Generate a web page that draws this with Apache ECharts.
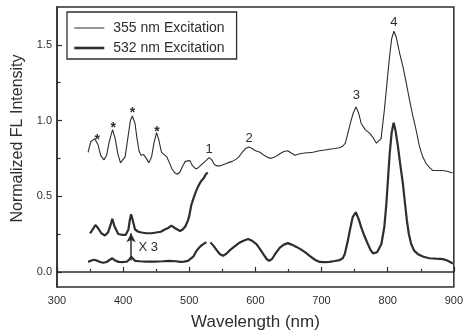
<!DOCTYPE html>
<html>
<head>
<meta charset="utf-8">
<script src="https://cdn.jsdelivr.net/npm/echarts@6/dist/echarts.min.js"></script>
<style>html,body{margin:0;padding:0;background:#fff}#c{width:466px;height:336px}</style>
</head>
<body>
<div id="c"></div>
<script>
// ---- data (wavelength nm, normalized intensity) ----
const seriesNames = ['355 nm Excitation', '532 nm Excitation'];
const xTicks = [300, 400, 500, 600, 700, 800, 900];
const yTickLabels = [0.0, 0.5, 1.0, 1.5];
const yMinorTicks = [0.25, 0.75, 1.25];

const ex355 = [[347,0.79],[351,0.86],[357,0.88],[362,0.84],[366,0.77],[371,0.74],[375,0.77],[379,0.86],[384,0.94],[388,0.88],[392,0.78],[396,0.72],[399,0.715],[403,0.76],[407,0.88],[411,1.0],[414,1.03],[418,0.98],[421,0.88],[424,0.8],[427,0.77],[431,0.775],[435,0.75],[439,0.72],[443,0.76],[447,0.86],[450.6,0.92],[454,0.87],[458,0.79],[462,0.775],[466,0.76],[470,0.72],[474,0.68],[478,0.655],[482,0.645],[486,0.66],[490,0.7],[494,0.73],[497,0.74],[501,0.735],[505,0.7],[510,0.68],[514,0.69],[519,0.71],[524,0.73],[530,0.755],[534,0.74],[538,0.71],[542,0.7],[546,0.7],[552,0.71],[558,0.72],[565,0.73],[571,0.745],[575,0.76],[580,0.79],[585,0.815],[590,0.825],[595,0.815],[600,0.8],[607,0.79],[613,0.77],[619,0.755],[624,0.75],[630,0.76],[637,0.78],[643,0.795],[649,0.8],[654,0.785],[660,0.77],[667,0.78],[675,0.785],[687,0.79],[697,0.8],[705,0.805],[712,0.81],[720,0.815],[727,0.82],[732,0.83],[736,0.85],[740,0.92],[744,0.99],[748,1.05],[752,1.09],[756,1.05],[760,0.98],[766,0.94],[773,0.915],[779,0.88],[783,0.85],[786,0.837],[790,0.88],[795,1.07],[799,1.25],[803,1.43],[806,1.54],[809.5,1.59],[813,1.55],[818,1.446],[823,1.357],[828,1.25],[833,1.136],[838,1.03],[843,0.937],[848,0.83],[853,0.76],[858,0.716],[863,0.69],[868,0.67],[875,0.67],[883,0.67],[890,0.665],[898,0.653]];

const ex532x3 = [[350,0.255],[354,0.28],[358,0.31],[362,0.29],[367,0.255],[372.5,0.24],[377,0.26],[381,0.31],[383.6,0.35],[387,0.3],[392.6,0.25],[398,0.245],[404,0.245],[408,0.28],[410,0.34],[412,0.38],[414,0.35],[418,0.28],[423,0.265],[428,0.26],[435,0.255],[443,0.255],[450,0.26],[457,0.265],[463,0.28],[468,0.29],[473,0.305],[478,0.29],[482,0.28],[486,0.27],[490,0.28],[494,0.3],[498,0.34],[500,0.37],[503,0.44],[506,0.48],[510,0.53],[514,0.57],[518,0.6],[522,0.62],[525,0.645],[528,0.655]];

const ex532 = [[347,0.066],[352,0.075],[356,0.08],[360,0.075],[365,0.065],[370,0.06],[375,0.065],[380,0.08],[383.6,0.09],[388,0.075],[393,0.066],[400,0.065],[406,0.068],[410,0.085],[412,0.1],[414,0.09],[418,0.073],[425,0.07],[435,0.068],[448,0.068],[460,0.07],[470,0.072],[480,0.07],[486,0.066],[492,0.068],[498,0.073],[501,0.078],[506,0.1],[511,0.14],[516,0.165],[520,0.18],[523.6,0.19],[526,0.195],[529,null],[532,0.195],[537,0.17],[542,0.14],[546,0.118],[551,0.106],[556,0.12],[562,0.145],[569,0.17],[575,0.19],[582,0.205],[589,0.217],[595,0.205],[601.6,0.184],[607,0.15],[613,0.11],[617,0.085],[620.7,0.073],[625,0.085],[631,0.125],[637,0.16],[643,0.18],[649,0.19],[655,0.18],[662,0.165],[668,0.15],[675,0.13],[682,0.106],[690,0.08],[697,0.066],[705,0.065],[712,0.066],[720,0.072],[727.5,0.078],[732,0.09],[735,0.117],[739,0.19],[742.6,0.27],[747,0.36],[751.7,0.394],[756,0.35],[760,0.294],[765,0.235],[770,0.184],[774,0.145],[778,0.122],[784,0.13],[790.5,0.184],[795,0.3],[798,0.45],[801,0.65],[803,0.78],[806,0.92],[809,0.985],[812,0.93],[815.6,0.826],[819,0.71],[823,0.583],[826,0.46],[829,0.34],[832,0.25],[835.5,0.184],[840,0.14],[845.8,0.117],[854,0.1],[863,0.09],[873,0.087],[883.5,0.084],[890,0.075],[898.6,0.055]];

// peak annotations
const peakText = ['*', '*', '*', '*', '1', '2', '3', '4'];
const peakX = [361, 385, 414, 451, 530, 590.5, 752.7, 809.5];
const peakY = [0.89, 0.97, 1.07, 0.945, 0.81, 0.882, 1.165, 1.65];
const scaleText = 'X 3';
const scaleTextPos = [438, 0.16];
const arrowX = 412;
const arrowY = [0.075, 0.255];

const FONT = '"Liberation Sans", Arial, sans-serif';
const INK = '#2e2e2e';

const chart = echarts.init(document.getElementById('c'), null, {renderer: 'canvas'});

const peakMarks = peakText.map((t, i) => ({
  coord: [peakX[i], peakY[i]],
  name: t,
  label: t === '*' ? {fontSize: 14, fontWeight: 'bold', offset: [0, 3]} : {fontSize: 13}
}));

chart.setOption({
  animation: false,
  backgroundColor: '#fff',
  grid: {left: 57, right: 12, top: 7, bottom: 49, show: true, borderColor: INK, borderWidth: 1.5, backgroundColor: 'transparent'},
  legend: {
    data: [
      {name: seriesNames[0], lineStyle: {width: 1, color: INK}},
      {name: seriesNames[1], lineStyle: {width: 2.6, color: INK}}
    ],
    orient: 'vertical',
    left: 67, top: 12,
    padding: [9, 12, 4, 6],
    itemGap: 6,
    itemWidth: 30, itemHeight: 14,
    borderColor: INK, borderWidth: 1.3, borderRadius: 0,
    itemStyle: {color: 'rgba(0,0,0,0)', borderColor: 'rgba(0,0,0,0)', borderWidth: 0, opacity: 0},
    textStyle: {fontFamily: FONT, fontSize: 14, color: INK, padding: [0, 0, 0, 4]}
  },
  xAxis: {
    type: 'value', min: 300, max: 900, interval: 100,
    name: 'Wavelength (nm)', nameLocation: 'middle', nameGap: 27,
    nameTextStyle: {fontFamily: FONT, fontSize: 17, color: INK},
    axisLine: {show: true, lineStyle: {color: INK, width: 1.5}},
    axisTick: {show: true, inside: true, length: 5, lineStyle: {color: INK, width: 1.2}},
    minorTick: {show: true, splitNumber: 2, length: 3, lineStyle: {color: INK, width: 1.2}},
    axisLabel: {fontFamily: FONT, fontSize: 11, color: INK, margin: 8,
      customValues: xTicks, formatter: v => String(v)},
    splitLine: {show: false}
  },
  yAxis: [{
    type: 'value', min: -0.1, max: 1.75,
    name: 'Normalized FL Intensity', nameLocation: 'middle', nameGap: 31,
    nameTextStyle: {fontFamily: FONT, fontSize: 16, color: INK, padding: [0, 0, 0, 17]},
    axisLine: {show: true, lineStyle: {color: INK, width: 1.5}},
    axisTick: {show: true, inside: true, length: 5, customValues: yTickLabels, lineStyle: {color: INK, width: 1.2}},
    axisLabel: {fontFamily: FONT, fontSize: 11, color: INK, margin: 5, customValues: yTickLabels,
      formatter: v => v.toFixed(1)},
    splitLine: {show: false}
  }, {
    type: 'value', min: -0.1, max: 1.75, position: 'left',
    axisLine: {show: false},
    axisTick: {show: true, inside: true, length: 3.5, customValues: yMinorTicks, lineStyle: {color: INK, width: 1.2}},
    axisLabel: {show: false},
    splitLine: {show: false}
  }],
  series: [{
    name: seriesNames[0], type: 'line', data: ex355, symbol: 'none',
    lineStyle: {color: INK, width: 1.1}, itemStyle: {color: INK},
    markPoint: {
      symbol: 'circle', symbolSize: 0, silent: true, animation: false,
      label: {show: true, position: 'inside', formatter: p => p.name, fontFamily: FONT, color: INK},
      data: peakMarks
    }
  }, {
    name: seriesNames[1], type: 'line', data: ex532, symbol: 'none', connectNulls: false,
    lineStyle: {color: INK, width: 2.2}, itemStyle: {color: INK},
    markLine: {
      silent: true, animation: false, symbol: ['none', 'arrow'], symbolSize: [7, 9],
      lineStyle: {color: INK, width: 1.5, type: 'solid'},
      label: {show: false},
      data: [[{coord: [arrowX, arrowY[0]]}, {coord: [arrowX, arrowY[1]]}]]
    },
    markPoint: {
      symbol: 'circle', symbolSize: 0, silent: true, animation: false,
      label: {show: true, position: 'inside', formatter: p => p.name, fontFamily: FONT, fontSize: 13, color: INK},
      data: [{coord: scaleTextPos, name: scaleText}]
    }
  }, {
    name: seriesNames[1] + ' x3', type: 'line', data: ex532x3, symbol: 'none',
    lineStyle: {color: INK, width: 2.2}, itemStyle: {color: INK}
  }]
});
</script>
</body>
</html>
